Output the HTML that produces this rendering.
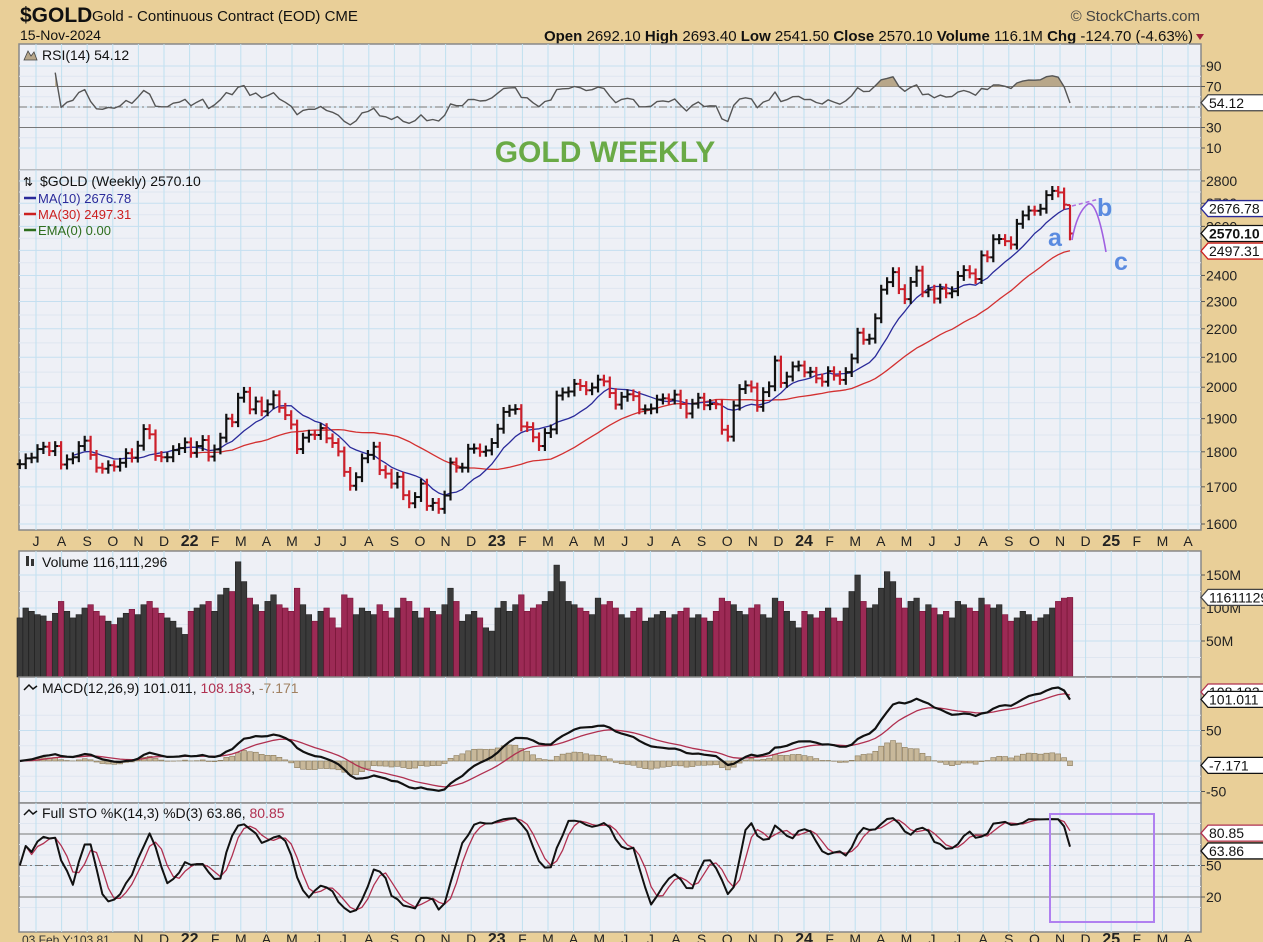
<!DOCTYPE html>
<html><head><meta charset="utf-8">
<style>
body{margin:0;background:#e9cf98;font-family:"Liberation Sans",sans-serif;}
#wrap{position:relative;width:1263px;height:942px;overflow:hidden;background:#e9cf98;}
svg{position:absolute;left:0;top:0;}
</style></head>
<body>
<div id="wrap">
<svg id="chart" width="1263" height="942" font-family="Liberation Sans, sans-serif"></svg>
</div>
<script>
const closes2021=[1764,1781,1783,1808,1815,1802,1817,1763,1778,1784,1817,1833,1791,1754,1751,1761,1757,1768,1796,1783,1818,1868,1852,1788,1784,1784,1805,1811,1828];
const closes2022=[1797,1817,1835,1786,1807,1842,1900,1889,1966,1985,1929,1954,1923,1945,1974,1934,1911,1882,1808,1842,1851,1850,1871,1840,1826,1801,1742,1703,1727,1781,1791,1815,1747,1737,1709,1728,1677,1655,1672,1709,1648,1656,1640,1676,1769,1754,1754,1809,1810,1800,1804,1826];
const closes2023=[1869,1921,1928,1930,1876,1874,1843,1817,1856,1867,1973,1983,1986,2011,2004,1990,1999,2025,2019,1981,1944,1969,1977,1971,1929,1929,1932,1960,1964,1960,1976,1946,1916,1947,1966,1942,1946,1945,1866,1845,1941,1994,2006,1999,1937,1984,2003,2089,2014,2035,2069,2072];
const closes2024=[2049,2051,2029,2018,2053,2038,2024,2050,2096,2186,2161,2165,2238,2345,2374,2413,2347,2309,2375,2419,2335,2345,2311,2349,2331,2339,2398,2421,2408,2386,2480,2472,2546,2547,2538,2524,2611,2647,2668,2667,2676,2736,2755,2748,2694,2570];
const vol2021=[85,100,95,90,88,80,92,110,95,85,90,100,105,95,88,80,75,85,92,98,90,105,110,100,92,85,80,70,60];
const vol2022=[95,100,105,110,95,120,130,125,170,140,115,105,95,110,120,105,100,95,130,105,90,80,95,100,85,70,120,115,90,100,95,90,105,95,85,100,115,110,95,85,100,95,90,105,130,110,80,90,95,85,70,65];
const vol2023=[100,110,95,105,120,95,100,105,110,125,165,140,110,105,100,95,90,115,105,110,100,90,85,95,100,80,85,90,95,85,90,95,100,85,90,85,80,95,115,110,105,95,90,100,105,90,85,115,110,95,80,70];
const vol2024=[95,90,85,95,100,85,80,100,125,150,110,100,105,130,155,140,115,100,110,115,95,105,100,90,95,85,110,105,100,95,115,105,100,105,90,80,85,95,90,80,85,90,100,110,115,116];
const monthLabels=["J","A","S","O","N","D","22","F","M","A","M","J","J","A","S","O","N","D","23","F","M","A","M","J","J","A","S","O","N","D","24","F","M","A","M","J","J","A","S","O","N","D","25","F","M","A"];
const priceTicks=[1600,1700,1800,1900,2000,2100,2200,2300,2400,2500,2600,2700,2800];
const rsiTicks=[10,30,50,70,90];
const volTicks=[50,100,150];
const macdTicks=[-50,0,50];
const stoTicks=[20,50,80];
const lastOpen=2692.1,lastHigh=2693.4,lastLow=2541.5;

const closes=[].concat(closes2021,closes2022,closes2023,closes2024);
const vols=[].concat(vol2021,vol2022,vol2023,vol2024);
const N=closes.length;
const svg=document.getElementById('chart');
const NS='http://www.w3.org/2000/svg';
function el(tag,attrs,parent){const e=document.createElementNS(NS,tag);for(const k in attrs)e.setAttribute(k,attrs[k]);(parent||svg).appendChild(e);return e;}
function txt(s,attrs,parent){const e=el('text',attrs,parent);e.textContent=s;return e;}

const L=19,R=1201;
const xOf=i=>1070-(N-1-i)*5.9;
const monthX=m=>36+m*25.6;
const yPrice=p=>524-613*Math.log(p/1600);
const yRsi=v=>148-(v-10)*1.025;
const yVol=v=>674-v*0.66;
const yMacd=v=>761-v*0.61;
const ySto=v=>918-v*1.05;

const opens=closes.map((c,i)=>i?closes[i-1]:c);
const highs=closes.map((c,i)=>Math.max(c,opens[i])*1.008);
const lows=closes.map((c,i)=>Math.min(c,opens[i])*0.992);
opens[N-1]=lastOpen;highs[N-1]=lastHigh;lows[N-1]=lastLow;
const down=closes.map((c,i)=>i>0&&c<closes[i-1]);

function panel(name,y0,y1,gridYs,minorYs){
  const g=el('g',{});
  
  
  el('rect',{x:L,y:y0,width:R-L,height:y1-y0,fill:'#eef0f6',stroke:'#888','stroke-width':1.5},g);
  (minorYs||[]).forEach(y=>{if(y>y0&&y<y1)el('line',{x1:L,x2:R,y1:y,y2:y,stroke:'#dfe6f0','stroke-width':1},g);});
  for(let m=0;m<monthLabels.length;m++){const x=monthX(m);if(x>L&&x<R)el('line',{x1:x,x2:x,y1:y0,y2:y1,stroke:'#bfe0f0','stroke-width':1},g);}
  (gridYs||[]).forEach(y=>{if(y>y0&&y<y1)el('line',{x1:L,x2:R,y1:y,y2:y,stroke:'#c5dff0','stroke-width':1},g);});
  return g;
}
function rightLabel(s,y,parent){el('line',{x1:R,x2:R+4,y1:y,y2:y,stroke:'#555'},parent);txt(s,{x:R+5,y:y+5,'font-size':14,fill:'#222'},parent);}
function tag(s,y,color,bold,name){
  const g=el('g',{});
  
  
  el('path',{d:`M${R},${y} l7,-8 h60 v16 h-60 z`,fill:'#fff',stroke:color,'stroke-width':1.3},g);
  txt(s,{x:R+8,y:y+5,'font-size':14,fill:'#111','font-weight':bold?'bold':'normal'},g);
}
function polyline(vals,yf,color,w,name,start){
  let d='';vals.forEach((v,i)=>{if(i<(start||0)||v==null)return;d+=(d?'L':'M')+xOf(i).toFixed(1)+','+yf(v).toFixed(1);});
  const p=el('path',{d:d,fill:'none',stroke:color,'stroke-width':w,'stroke-linejoin':'round'});
  
  
  return p;
}

function sma(a,n){return a.map((_,i)=>i<n-1?null:a.slice(i-n+1,i+1).reduce((s,v)=>s+v,0)/n);}
function ema(a,n){const k=2/(n+1);let e=a[0];return a.map(v=>e=v*k+e*(1-k));}
const ma10=sma(closes,10),ma30=sma(closes,30);
const rsi=[];{let ag=0,al=0;for(let i=0;i<N;i++){if(i==0){rsi.push(50);continue;}const ch=closes[i]-closes[i-1];const gg=Math.max(ch,0),ll=Math.max(-ch,0);const n=Math.min(i,14);ag=(ag*(n-1)+gg)/n;al=(al*(n-1)+ll)/n;rsi.push(al==0?70:100-100/(1+ag/al));}}
const e12=ema(closes,12),e26=ema(closes,26);
const macd=closes.map((_,i)=>e12[i]-e26[i]);
const sig=ema(macd,9);
const hist=macd.map((v,i)=>v-sig[i]);
const fastK=closes.map((c,i)=>{const s=Math.max(0,i-13);const hh=Math.max(...highs.slice(s,i+1)),ll=Math.min(...lows.slice(s,i+1));return hh==ll?50:(c-ll)/(hh-ll)*100;});
const fullK=sma(fastK,3).map((v,i)=>v==null?fastK[i]:v);
const fullD=sma(fullK,3).map((v,i)=>v==null?fullK[i]:v);

// header
const hd=el('g',{});
txt('$GOLD',{x:20,y:22,'font-size':21,'font-weight':'bold',fill:'#111'},hd);
txt('Gold - Continuous Contract (EOD)  CME',{x:92,y:21,'font-size':15,fill:'#111'},hd);
txt('15-Nov-2024',{x:20,y:40,'font-size':14,fill:'#111'},hd);
txt('© StockCharts.com',{x:1200,y:21,'font-size':15,fill:'#444','text-anchor':'end'},hd);
const ohlc=txt('',{x:1193,y:41,'font-size':15,fill:'#111','text-anchor':'end'},hd);
ohlc.innerHTML='<tspan font-weight="bold">Open</tspan> 2692.10 <tspan font-weight="bold">High</tspan> 2693.40 <tspan font-weight="bold">Low</tspan> 2541.50 <tspan font-weight="bold">Close</tspan> 2570.10 <tspan font-weight="bold">Volume</tspan> 116.1M <tspan font-weight="bold">Chg</tspan> -124.70 (-4.63%)';
el('path',{d:'M1196,34 l8,0 l-4,6 z',fill:'#a0203a'},hd);

// RSI
const rp=panel('rsi-panel',44,170,rsiTicks.map(yRsi),[20,40,60,80].map(yRsi));
el('line',{x1:L,x2:R,y1:yRsi(70),y2:yRsi(70),stroke:'#777'},rp);
el('line',{x1:L,x2:R,y1:yRsi(30),y2:yRsi(30),stroke:'#777'},rp);
el('line',{x1:L,x2:R,y1:yRsi(50),y2:yRsi(50),stroke:'#777','stroke-dasharray':'8,3,2,3'},rp);
const RS=6;
const cp=el('clipPath',{id:'ob'});el('rect',{x:L,y:44,width:R-L,height:yRsi(70)-44},cp);
let fd='M'+xOf(RS)+','+yRsi(70);rsi.forEach((v,i)=>{if(i>=RS)fd+='L'+xOf(i).toFixed(1)+','+yRsi(v).toFixed(1);});fd+='L'+xOf(N-1)+','+yRsi(70)+'Z';
const fa=el('path',{d:fd,fill:'#b8a78a','clip-path':'url(#ob)'},rp);
rp.appendChild(polyline(rsi,yRsi,'#555',1.4,'rsi-line',RS));
rsiTicks.forEach(t=>{if(t!=50)rightLabel(String(t),yRsi(t),rp);});
txt('RSI(14) 54.12',{x:42,y:60,'font-size':14,fill:'#111'},rp);
el('path',{d:'M24,60 l4,-9 l3,5 l3,-4 l3,8 z',fill:'#b8a78a',stroke:'#444','stroke-width':0.8},rp);
tag('54.12',yRsi(54.12),'#444',false,'rsi-value-tag');
const gw=txt('GOLD WEEKLY',{x:605,y:162,'font-size':30,'font-weight':'bold',fill:'#6aaa46','text-anchor':'middle'});

// Price
const pp=panel('price-panel',170,530,priceTicks.map(yPrice),priceTicks.map(p=>yPrice(p+50)));
pp.appendChild(polyline(ma30,yPrice,'#d33030',1.3,'ma30-line'));
pp.appendChild(polyline(ma10,yPrice,'#2a2a9a',1.3,'ma10-line'));
for(let i=0;i<N;i++){
  const x=xOf(i),c=down[i]?'#cc1f2a':'#111';
  const g=el('g',{},pp);
  
  
  el('line',{x1:x,x2:x,y1:yPrice(highs[i]),y2:yPrice(lows[i]),stroke:c,'stroke-width':2.2},g);
  el('line',{x1:x-3,x2:x,y1:yPrice(opens[i]),y2:yPrice(opens[i]),stroke:c,'stroke-width':2},g);
  el('line',{x1:x,x2:x+3,y1:yPrice(closes[i]),y2:yPrice(closes[i]),stroke:c,'stroke-width':2},g);
}
priceTicks.forEach(t=>rightLabel(String(t),yPrice(t),pp));
txt('$GOLD (Weekly) 2570.10',{x:40,y:186,'font-size':14,fill:'#111'},pp);
txt('⇅',{x:23,y:186,'font-size':12,fill:'#111'},pp);
[['MA(10) 2676.78','#2a2a9a',203],['MA(30) 2497.31','#cc2020',219],['EMA(0) 0.00','#2e6e1e',235]].forEach(a=>{el('line',{x1:24,x2:36,y1:a[2]-5,y2:a[2]-5,stroke:a[1],'stroke-width':2.5},pp);txt(a[0],{x:38,y:a[2],'font-size':13,fill:a[1]},pp);});
tag('2676.78',yPrice(2676.78),'#2a2a9a',false,'ma10-value-tag');
tag('2570.10',yPrice(2570.1),'#111',true,'close-value-tag');
tag('2497.31',yPrice(2497.31),'#cc2020',false,'ma30-value-tag');
const an=el('g',{});
el('line',{x1:1072,y1:206,x2:1099,y2:199,stroke:'#b070e0','stroke-width':1.5,'stroke-dasharray':'4,3'},an);
el('path',{d:'M1072,240 Q1077,212 1088,204 Q1097,200 1106,252',fill:'none',stroke:'#a060e0','stroke-width':1.6},an);
txt('a',{x:1048,y:246,'font-size':25,'font-weight':'bold',fill:'#5b8be0'},an);
txt('b',{x:1097,y:216,'font-size':25,'font-weight':'bold',fill:'#5b8be0'},an);
txt('c',{x:1114,y:270,'font-size':25,'font-weight':'bold',fill:'#5b8be0'},an);

function monthAxis(y,name,minX){const g=el('g',{});
 monthLabels.forEach((s,m)=>{const x=monthX(m);if(x<minX||x>R)return;const big=s.length==2;txt(s,{x:x,y:y,'font-size':big?16:14,'font-weight':big?'bold':'normal',fill:'#222','text-anchor':'middle'},g);});return g;}
monthAxis(546,'x-axis-top',L);
monthAxis(944,'x-axis-bottom',135);
const tip=txt('03 Feb Y:103.81',{x:22,y:944,'font-size':12,fill:'#333'});

// Volume
const vp=panel('volume-panel',551,677,volTicks.map(yVol),[25,75,125].map(yVol));
for(let i=0;i<N;i++){const x=xOf(i);const r=el('rect',{x:x-2.8,y:yVol(vols[i]),width:5.6,height:yVol(0)-yVol(vols[i])+3,fill:down[i]?'#9c2a55':'#3a3a3a',stroke:down[i]?'#7a1538':'#222','stroke-width':0.6},vp);
 }
volTicks.forEach(t=>rightLabel(t+'M',yVol(t),vp));
txt('Volume 116,111,296',{x:42,y:567,'font-size':14,fill:'#111'},vp);
el('rect',{x:26,y:556,width:3,height:10,fill:'#333'},vp);el('rect',{x:31,y:559,width:3,height:7,fill:'#333'},vp);
tag('116111296',yVol(116.1),'#444',false,'volume-value-tag');

// MACD
const mp=panel('macd-panel',677,803,macdTicks.map(yMacd),[-75,-25,25,75].map(yMacd));
for(let i=0;i<N;i++){const x=xOf(i),y0=yMacd(0),y=yMacd(hist[i]);const r=el('rect',{x:x-2.5,y:Math.min(y,y0),width:5,height:Math.abs(y-y0),fill:'#c8b89a',stroke:'#8a7a5a','stroke-width':0.6},mp);
 }
mp.appendChild(polyline(sig,yMacd,'#b03050',1.3,'macd-signal-line'));
mp.appendChild(polyline(macd,yMacd,'#111',2.2,'macd-line'));
[50,-50].forEach(t=>rightLabel(String(t),yMacd(t),mp));
const mt=txt('',{x:42,y:693,'font-size':14,fill:'#111'},mp);
mt.innerHTML='MACD(12,26,9) 101.011, <tspan fill="#b03050">108.183</tspan>, <tspan fill="#a08060">-7.171</tspan>';
el('path',{d:'M24,690 l5,-5 l4,4 l4,-3',fill:'none',stroke:'#111','stroke-width':1.5},mp);
tag('108.183',yMacd(108.183)-3,'#b03050',false,'macd-signal-tag');
tag('101.011',yMacd(101.011),'#111',false,'macd-value-tag');
tag('-7.171',yMacd(-7.171),'#111',false,'macd-hist-tag');

// STO
const sp=panel('stochastic-panel',803,932,[20,50,80].map(ySto),[10,30,40,60,70,90].map(ySto));
el('line',{x1:L,x2:R,y1:ySto(80),y2:ySto(80),stroke:'#777'},sp);
el('line',{x1:L,x2:R,y1:ySto(20),y2:ySto(20),stroke:'#777'},sp);
el('line',{x1:L,x2:R,y1:ySto(50),y2:ySto(50),stroke:'#777','stroke-dasharray':'8,3,2,3'},sp);
sp.appendChild(polyline(fullD,ySto,'#b03050',1.3,'sto-d-line'));
sp.appendChild(polyline(fullK,ySto,'#111',2,'sto-k-line'));
[20,50].forEach(t=>rightLabel(String(t),ySto(t),sp));
const st=txt('',{x:42,y:818,'font-size':14,fill:'#111'},sp);
st.innerHTML='Full STO %K(14,3) %D(3) 63.86, <tspan fill="#b03050">80.85</tspan>';
el('path',{d:'M24,815 l5,-5 l4,4 l4,-3',fill:'none',stroke:'#111','stroke-width':1.5},sp);
tag('80.85',ySto(80.85),'#b03050',false,'sto-d-tag');
tag('63.86',ySto(63.86),'#111',false,'sto-k-tag');
const box=el('rect',{x:1050,y:814,width:104,height:108,fill:'none',stroke:'#b080f0','stroke-width':2});

</script>
</body></html>
